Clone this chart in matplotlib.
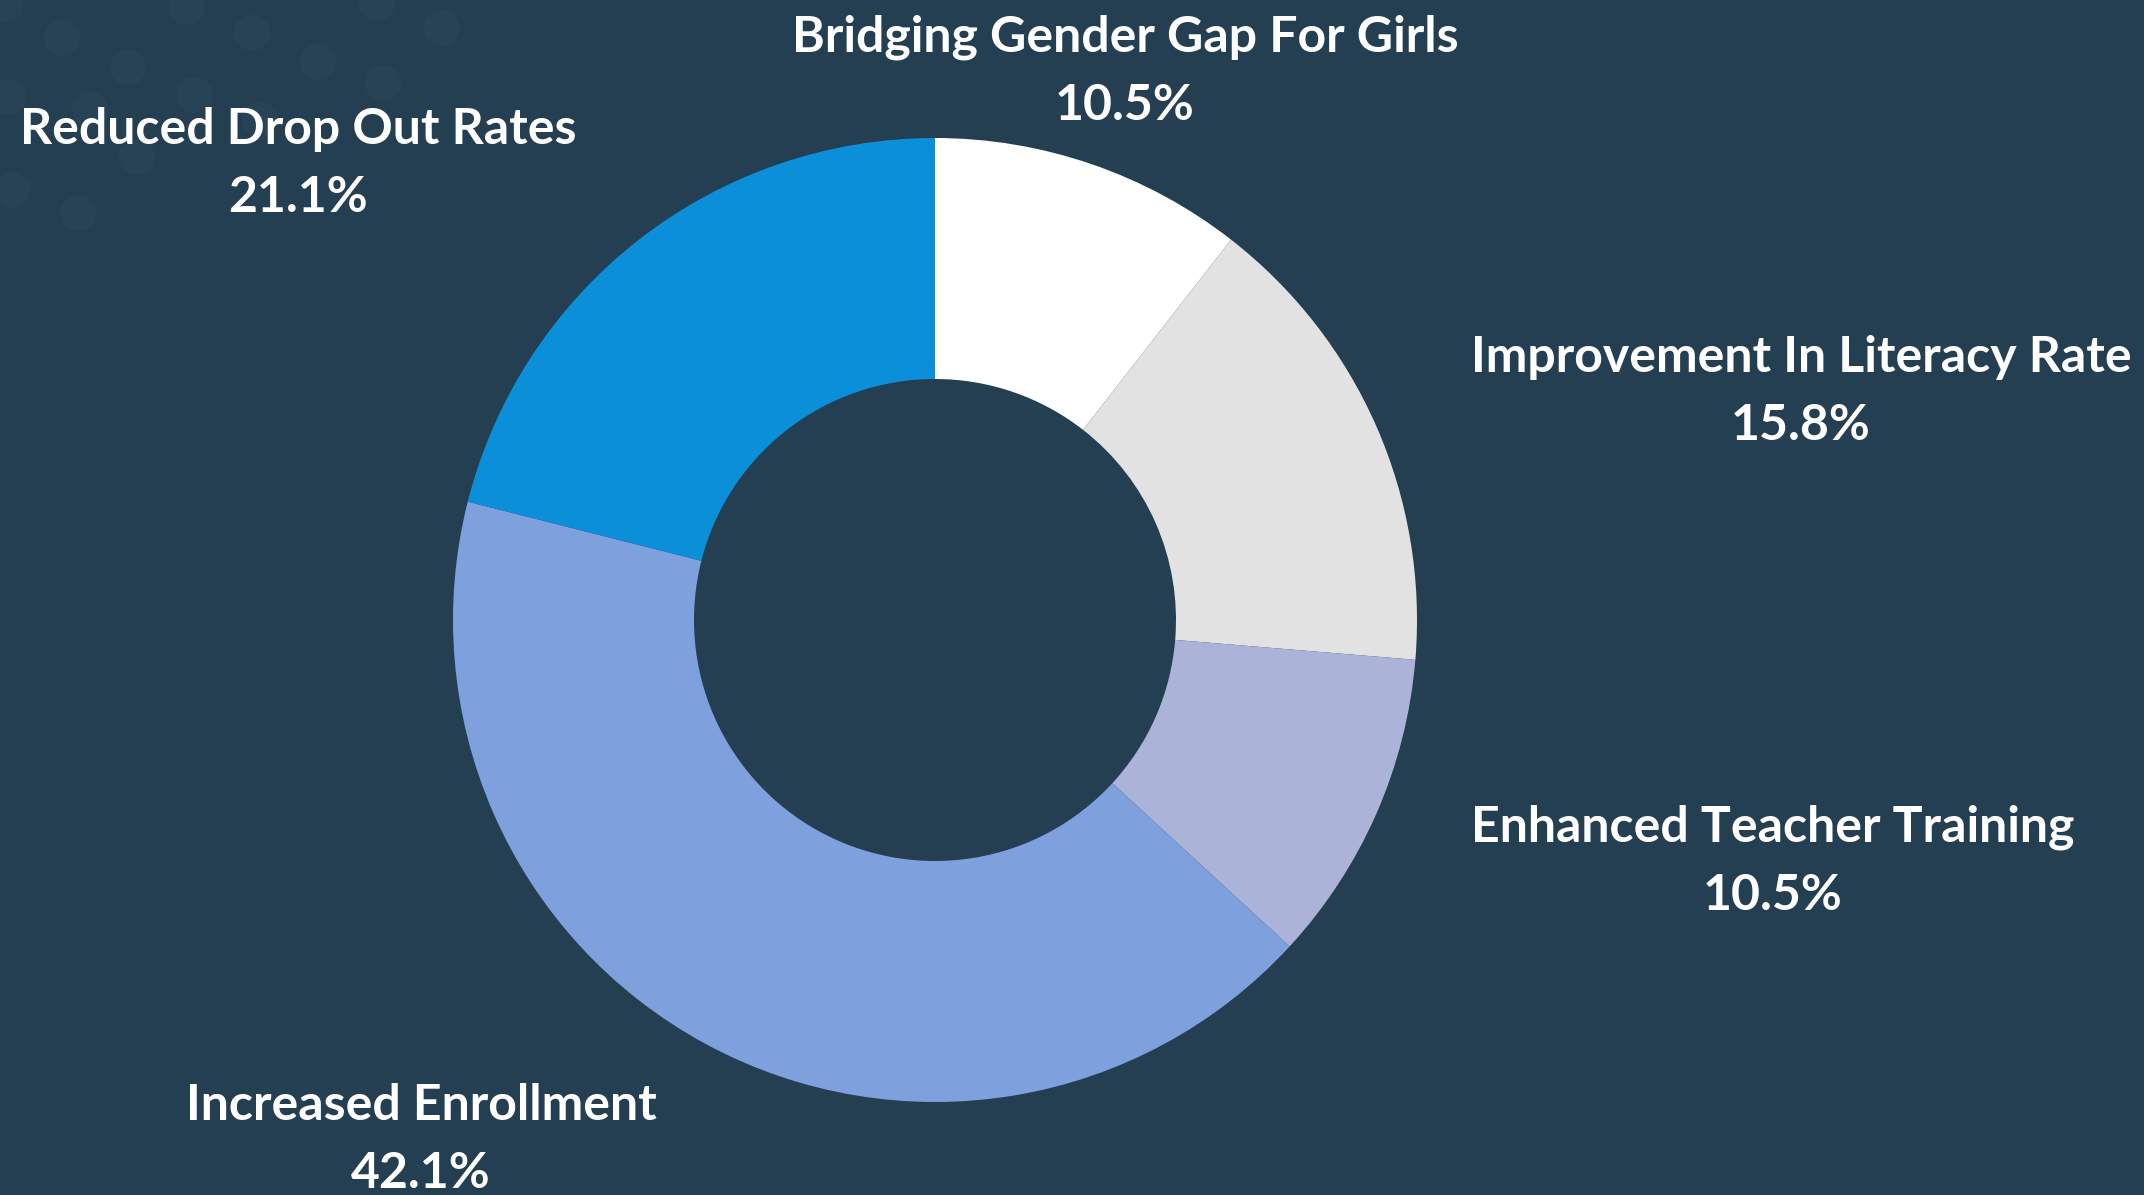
#!/usr/bin/env python3
"""Donut chart: outcomes of the education programme."""

import matplotlib
matplotlib.use("Agg")
import matplotlib.pyplot as plt
from matplotlib.patches import Circle

categories = ["Bridging Gender Gap For Girls", "Improvement In Literacy Rate",
              "Enhanced Teacher Training", "Increased Enrollment",
              "Reduced Drop Out Rates"]
values = [2, 3, 2, 8, 4]
colors = ["#FFFFFF", "#E2E2E2", "#ABB3D9", "#7EA0DC", "#0C8FD9"]

BG = "#243F52"
W, H = 2144, 1195

# label anchor positions (pixels from top-left)
label_pos = [(1125, 37), (1801, 357), (1773, 827), (421, 1105), (298, 129)]

# faint decorative dots, top-left corner
dots = [(62, 38), (128, 67), (187, 7), (252, 33), (318, 62), (377, 3), (442, 28),
        (383, 83), (195, 95), (137, 157), (12, 190), (78, 213), (8, 97),
        (260, 120), (5, 5), (90, 110)]

fig = plt.figure(figsize=(W / 100, H / 100), dpi=100, facecolor=BG)
ax = fig.add_axes([0, 0, 1, 1])
ax.set_facecolor(BG)

for x, y in dots:
    ax.add_patch(Circle((x, y), 18, color="#3A5560", alpha=0.22, lw=0, zorder=0))

cx, cy, r = 935, 620, 482
# y axis is inverted below, so counterclockwise in data = clockwise on screen
ax.pie(values, colors=colors, startangle=-90, counterclock=True,
       center=(cx, cy), radius=r, frame=True,
       wedgeprops=dict(width=r * 0.5, edgecolor="none"))
ax.set_xlim(0, W)
ax.set_ylim(H, 0)
ax.set_aspect("equal")
ax.axis("off")

total = sum(values)
font = dict(ha="center", va="center", color="white", fontsize=36,
            fontweight="bold", family=["Lato", "DejaVu Sans"])
for name, v, (x, y) in zip(categories, values, label_pos):
    ax.text(x, y, name, **font)
    ax.text(x, y + 68, f"{100 * v / total:.1f}%", **font)

fig.savefig("out.png", dpi=100, facecolor=BG)
